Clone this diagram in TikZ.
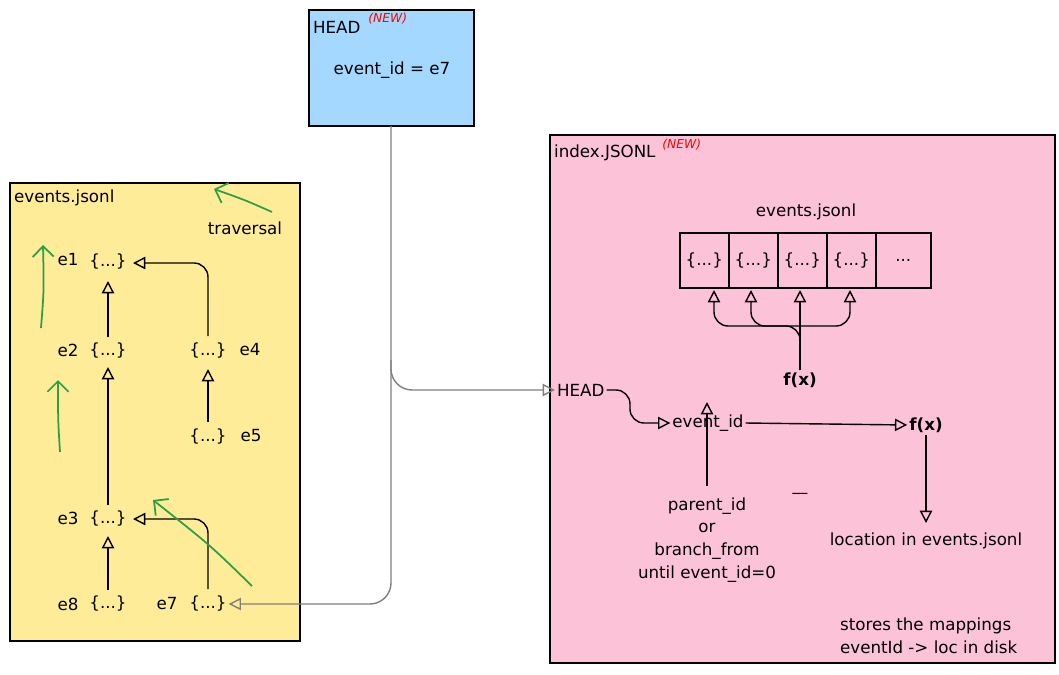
\documentclass[tikz,border=0pt]{standalone}
\usepackage{fontspec}
\setmainfont{DejaVu Sans}
\usetikzlibrary{arrows.meta}
\definecolor{hblue}{HTML}{A5D8FF}
\definecolor{eyel}{HTML}{FFEC99}
\definecolor{ipink}{HTML}{FCC2D7}
\definecolor{gr}{HTML}{2F9E44}
\tikzset{
 box/.style={draw=black,line width=0.9pt},
 t/.style={inner sep=1pt,font=\fontsize{9.5}{11}\selectfont},
 ar/.style={line width=0.8pt,-{Triangle[open,length=7pt,width=7pt]},rounded corners=8pt},
 gar/.style={draw=gray,line width=0.8pt,-{Triangle[open,length=7pt,width=7pt]},rounded corners=12pt},
 gre/.style={draw=gr,line width=1pt,-{Straight Barb[length=6pt]}},
 new/.style={text=red,inner sep=0pt,font=\fontsize{7}{8}\selectfont\itshape},
 cell/.style={draw,line width=0.9pt,inner sep=0pt,minimum height=1.1cm,anchor=north west,font=\fontsize{9.5}{11}\selectfont}
}
\begin{document}
\begin{tikzpicture}[x=0.02cm,y=-0.02cm]
\useasboundingbox (0,0) rectangle (1059,674);
% HEAD box
\draw[box,fill=hblue] (309,10) rectangle (474,126);
\node[t,anchor=west] (headlbl) at (311,27) {HEAD};
\node[new,anchor=west] (new1) at (368,19) {(NEW)};
\node[t] (headval) at (392,70) {event\_id = e7};
\coordinate (hb) at (391,126);
% events box
\draw[box,fill=eyel] (10,183) rectangle (300,641);
\node[t,anchor=west] (evlbl) at (12,198) {events.jsonl};
\node[t] (trav) at (245,228) {traversal};
\node[t] (e1) at (68,260) {e1}; \node[t] (j1) at (108,262) {\{...\}};
\node[t] (e2) at (68,350) {e2}; \node[t] (j2) at (108,351) {\{...\}};
\node[t] (j4) at (208,351) {\{...\}}; \node[t] (e4) at (250,350) {e4};
\node[t] (j5) at (208,437) {\{...\}}; \node[t] (e5) at (251,436) {e5};
\node[t] (e3) at (68,518) {e3}; \node[t] (j3) at (108,519) {\{...\}};
\node[t] (e8) at (68,604) {e8}; \node[t] (j8) at (108,604) {\{...\}};
\node[t] (e7) at (167,604) {e7}; \node[t] (j7) at (208,604) {\{...\}};
\draw[ar] (108,337) -- (108,281);
\draw[ar] (108,505) -- (108,367);
\draw[ar] (108,590) -- (108,536);
\draw[ar] (208,336) -- (208,263) -- (133,263);
\draw[ar] (208,422) -- (208,369);
\draw[ar] (208,589) -- (208,519) -- (133,519);
% green
\draw[gre] (272,212) .. controls (245,200) .. (214,189);
\draw[gre] (41,328) .. controls (44,290) .. (43,245);
\draw[gre] (60,452) .. controls (58,420) .. (58,380);
\draw[gre] (252,586) .. controls (210,545) .. (153,500);
% index box
\draw[box,fill=ipink] (550,135) rectangle (1055,663);
\node[t,anchor=west] (idxlbl) at (552,153) {index.JSONL};
\node[new,anchor=west] (new2) at (662,145) {(NEW)};
\node[t] (evj) at (806,212) {events.jsonl};
\node[cell,minimum width=0.98cm] (c1) at (679,232) {\{...\}};
\node[cell,minimum width=0.98cm] (c2) at (728,232) {\{...\}};
\node[cell,minimum width=0.98cm] (c3) at (777,232) {\{...\}};
\node[cell,minimum width=0.98cm] (c4) at (826,232) {\{...\}};
\node[cell,minimum width=1.1cm] (c5) at (875,232) {...};
\node[t,font=\fontsize{9.5}{11}\selectfont\bfseries] (f1) at (800,380) {f(x)};
\draw[ar] (f1.north) -- (800,290);
\draw[ar] (800,366) -- (800,326) -- (714,326) -- (714,290);
\draw[ar] (800,326) -- (751,326) -- (751,290);
\draw[ar] (800,326) -- (850,326) -- (850,290);
\node[t,anchor=west] (hd) at (555,390) {HEAD};
\node[t] (eid) at (708,423) {event\_id};
\node[t,font=\fontsize{9.5}{11}\selectfont\bfseries] (f2) at (926,425) {f(x)};
\node[t] (loc) at (926,541) {location in events.jsonl};
\draw[ar] (hd.east) -- (630,390) -- (630,423) -- (eid.west);
\draw[ar] (eid.east) -- (f2.west);
\draw[ar] (f2.south) -- (926,523);
\node[t,align=center] (par) at (707,540) {parent\_id\\[2pt]or\\[2pt]branch\_from\\[2pt]until event\_id=0};
\draw[ar] (707,486) -- (707,402);
\node[t] (dash) at (800,496) {—};
\node[t,align=left,anchor=west] (st) at (838,636) {stores the mappings\\[2pt]eventId -> loc in disk};
% gray
\draw[gar] (hb) -- (391,390) -- (hd.west);
\draw[gar] (391,360) -- (391,604) -- (j7.east);
\end{tikzpicture}
\end{document}
